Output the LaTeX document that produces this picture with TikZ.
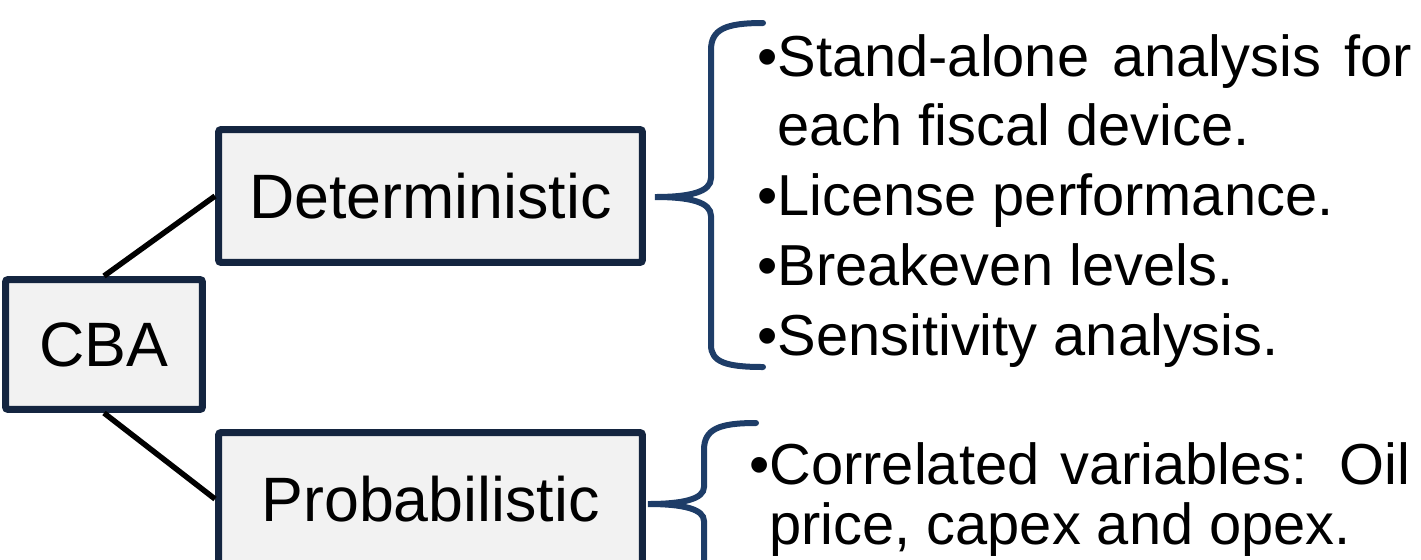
\documentclass[tikz,border=0pt]{standalone}
\usepackage{fontspec}
\setmainfont{Liberation Sans}
\usepackage{xcolor}
\usetikzlibrary{positioning}
\definecolor{boxline}{RGB}{20,37,64}
\definecolor{boxfill}{RGB}{242,242,242}
\definecolor{bracecol}{RGB}{30,61,104}
\tikzset{blk/.style={rectangle,draw=boxline,fill=boxfill,line width=0.14cm,rounded corners=1.5pt,inner sep=0pt,font=\fontsize{35.7}{42}\selectfont}}
\tikzset{lst/.style={anchor=base west,inner sep=0pt,text width=13.1cm,align=justify,font=\fontsize{32.9}{39.7}\selectfont}}
\tikzset{conn/.style={line width=0.11cm,black}}
\tikzset{brc/.style={draw=bracecol,line width=0.12cm,line cap=round}}
\newcommand{\bitem}{\hangindent=0.4cm\hangafter=1\textbullet}

\begin{document}
\begin{tikzpicture}[x=0.02cm,y=-0.02cm]
    \useasboundingbox (0,0) rectangle (1421,559);
    \clip (0,0) rectangle (1421,559);

    \node[blk,minimum width=3.94cm,minimum height=2.6cm] (cba) at (104,344.5) {CBA};
    \node[blk,minimum width=8.48cm,minimum height=2.66cm] (det) at (430.5,196) {Deterministic};
    \node[blk,minimum width=8.48cm,minimum height=2.66cm] (prob) at (430.5,499) {Probabilistic};

    \draw [conn] (cba.north) to [] (det.west);
    \draw [conn] (cba.south) to [] (prob.west);

    % braces
    \draw [brc] (763,23) .. controls (726,23) and (711,29) .. (711,50) -- (711,178)
        .. controls (711,192) and (690,197) .. (655,197)
        .. controls (690,197) and (711,202) .. (711,216) -- (711,345)
        .. controls (711,362) and (726,367) .. (763,367);
    \draw [brc] (756,423) .. controls (719,423) and (704,429) .. (704,450) -- (704,487)
        .. controls (704,499) and (683,504) .. (648,504)
        .. controls (683,504) and (704,509) .. (704,521) -- (704,600);

    \node[lst] (detlist) at (757,76) {\bitem Stand-alone analysis for\linebreak each fiscal device.\par
        \bitem License performance.\par
        \bitem Breakeven levels.\par
        \bitem Sensitivity analysis.\par};
    \node[lst,text width=13.22cm,font=\fontsize{32.9}{34.6}\selectfont] (problist) at (749,484)
        {\bitem Correlated variables: Oil\linebreak price, capex and opex.\par};
\end{tikzpicture}
\end{document}
